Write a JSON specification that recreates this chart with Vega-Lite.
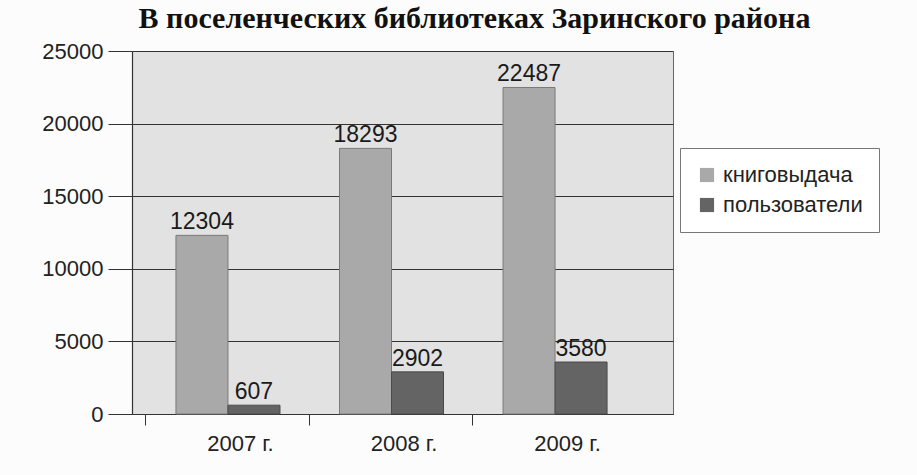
{
  "$schema": "https://vega.github.io/schema/vega-lite/v6.json",
  "width": 541,
  "height": 363,
  "autosize": {"type": "none"},
  "padding": {"left": 132, "top": 51, "right": 244, "bottom": 61},
  "background": "#fcfcfc",
  "title": {
    "text": "В поселенческих библиотеках Заринского района",
    "font": "Liberation Serif",
    "fontSize": 30,
    "fontWeight": "bold",
    "color": "#111111",
    "anchor": "middle",
    "frame": "group",
    "offset": 6,
    "dx": 72
  },
  "data": {
    "values": [
      {"year": "2007 г.", "series": "книговыдача", "value": 12304},
      {"year": "2007 г.", "series": "пользователи", "value": 607},
      {"year": "2008 г.", "series": "книговыдача", "value": 18293},
      {"year": "2008 г.", "series": "пользователи", "value": 2902},
      {"year": "2009 г.", "series": "книговыдача", "value": 22487},
      {"year": "2009 г.", "series": "пользователи", "value": 3580}
    ]
  },
  "encoding": {
    "x": {
      "field": "year",
      "type": "nominal",
      "title": null,
      "scale": {"paddingInner": 0.364, "paddingOuter": 0.336, "align": 0.4},
      "axis": {
        "labelAngle": 0,
        "labelFont": "Liberation Sans",
        "labelFontSize": 22,
        "labelColor": "#222222",
        "labelPadding": 8,
        "bandPosition": 0,
        "tickOffset": -31,
        "labelOffset": 43,
        "domainColor": "#333333",
        "domainWidth": 1.2,
        "tickColor": "#333333",
        "tickSize": 11,
        "grid": false
      }
    },
    "xOffset": {"field": "series", "type": "nominal", "scale": {"paddingInner": 0, "paddingOuter": 0}},
    "y": {
      "field": "value",
      "type": "quantitative",
      "title": null,
      "scale": {"domain": [0, 25000], "nice": false},
      "axis": {
        "values": [0, 5000, 10000, 15000, 20000, 25000],
        "format": "d",
        "labelFont": "Liberation Sans",
        "labelFontSize": 22,
        "labelColor": "#222222",
        "labelPadding": 5,
        "tickSize": 24,
        "tickColor": "#333333",
        "domainColor": "#333333",
        "domainWidth": 1.2,
        "grid": true,
        "gridColor": "#333333",
        "gridWidth": 1.2,
        "gridOpacity": 1
      }
    }
  },
  "layer": [
    {
      "mark": {"type": "bar", "strokeWidth": 1},
      "encoding": {
        "color": {
          "field": "series",
          "type": "nominal",
          "scale": {"domain": ["книговыдача", "пользователи"], "range": ["#a9a9a9", "#646464"]},
          "legend": {
            "title": null,
            "orient": "none",
            "legendX": 548,
            "legendY": 97,
            "symbolType": "square",
            "symbolSize": 200,
            "symbolStrokeWidth": 0,
            "symbolOpacity": 1,
            "labelFont": "Liberation Sans",
            "labelFontSize": 22,
            "labelColor": "#222222",
            "labelOffset": 5,
            "rowPadding": 8,
            "padding": 16,
            "strokeColor": "#777777",
            "fillColor": "#ffffff",
            "cornerRadius": 0,
            "labelLimit": 300
          }
        },
        "stroke": {
          "field": "series",
          "type": "nominal",
          "scale": {"domain": ["книговыдача", "пользователи"], "range": ["#7a7a7a", "#4a4a4a"]},
          "legend": null
        }
      }
    },
    {
      "mark": {
        "type": "text",
        "baseline": "alphabetic",
        "dy": -6,
        "font": "Liberation Sans",
        "fontSize": 23,
        "color": "#1a1a1a"
      },
      "encoding": {
        "text": {"field": "value", "type": "quantitative", "format": "d"}
      }
    }
  ],
  "config": {
    "view": {"fill": "#e2e2e2", "stroke": "#666666", "strokeWidth": 1}
  }
}
